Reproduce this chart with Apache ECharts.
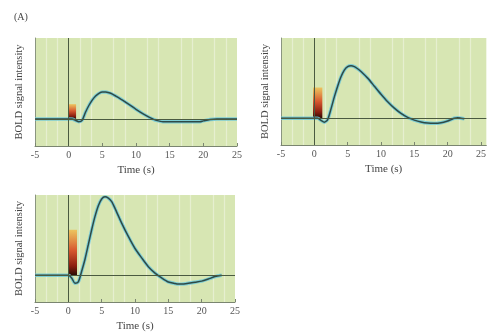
<!DOCTYPE html>
<html><head><meta charset="utf-8">
<script src="https://cdn.jsdelivr.net/npm/echarts@6/dist/echarts.min.js"></script>
<style>html,body{margin:0;padding:0;background:#fff}#c{width:489px;height:333px}</style>
</head><body><div id="c"></div>
<script>
const xTicks = [-5, 0, 5, 10, 15, 20, 25];
const t1 = [-5,0,0.5,1,1.5,2,2.5,3,3.5,4,4.5,5,5.5,6,6.5,7,8,9,10,11,12,12.5,13,14,15,16,17,18,19,19.5,20,21,22,23,24,25];
const v1 = [0,0,0,-0.05,-0.1,-0.05,0.25,0.5,0.7,0.85,0.95,1.0,1.0,0.97,0.92,0.85,0.7,0.53,0.36,0.2,0.06,0.0,-0.05,-0.1,-0.1,-0.1,-0.1,-0.1,-0.1,-0.1,-0.07,-0.02,0,0,0,0];
const t2 = [-5,0,0.5,1,1.5,2,2.5,3,3.5,4,4.5,5,5.5,6,6.5,7,8,9,10,11,12,13,14,15,16,17,18,19,20,20.5,21,21.5,22,22.5];
const v2 = [0,0,0,-0.08,-0.15,-0.05,0.35,0.8,1.2,1.55,1.8,1.93,1.96,1.93,1.85,1.75,1.5,1.2,0.9,0.62,0.38,0.18,0.03,-0.07,-0.14,-0.18,-0.19,-0.17,-0.1,-0.05,0.0,0.02,0.0,-0.02];
const t3 = [-5,0,0.5,1,1.5,2,2.5,3,3.5,4,4.5,5,5.5,6,6.5,7,8,9,10,11,12,13,14,15,16,16.5,17,18,19,20,21,22,23];
const v3 = [0,0,-0.1,-0.3,-0.25,0.15,0.6,1.15,1.7,2.2,2.6,2.85,2.93,2.88,2.75,2.5,1.95,1.45,1.0,0.65,0.32,0.08,-0.1,-0.25,-0.31,-0.33,-0.33,-0.3,-0.26,-0.22,-0.14,-0.05,0];
// stimulus blocks: [start, end, height]
const stim1 = [0, 1.1, 0.55];
const stim2 = [-0.2, 1.2, 1.15];
const stim3 = [0, 1.3, 1.7];
const panelLabel = '(A)';
const xName = 'Time (s)';
const yName = 'BOLD signal intensity';

const FONT = 'Liberation Serif';
const grids = [
  {left: 35, top: 38, width: 202, height: 108},
  {left: 281, top: 38, width: 208, height: 107},
  {left: 35, top: 195, width: 200, height: 108}
];
const xMax = [25, 25.8, 25];
function zip(t, v){ return t.map((x,i)=>[x, v[i]]); }
const stimGrad = {type:'linear', x:0, y:0, x2:0, y2:1, colorStops:[
  {offset:0, color:'rgba(240,190,80,0.85)'},
  {offset:0.45, color:'rgba(215,80,40,0.95)'},
  {offset:0.8, color:'#8a1e10'},
  {offset:1, color:'#2a0d05'}]};
const xAxes = grids.map((g,i)=>({
  type:'value', gridIndex:i, min:-5, max:xMax[i], interval:5,
  name:xName, nameLocation:'middle', nameGap:19,
  nameTextStyle:{fontFamily:FONT, fontSize:11, color:'#444'},
  axisLine:{show:true, onZero:false, lineStyle:{color:'#7a8570', width:1}},
  axisTick:{show:true, inside:true, length:3, lineStyle:{color:'#7a8570'}},
  axisLabel:{fontFamily:FONT, fontSize:10, color:'#555', margin:4, showMaxLabel: i!==1,
    formatter: v => xTicks.indexOf(v) >= 0 ? String(v) : ''},
  splitLine:{show:false},
  minorTick:{show:false, splitNumber:3},
  minorSplitLine:{show:true, lineStyle:{color:'#e6efd0', width:1.2}}
}));
const yAxes = grids.map((g,i)=>({
  type:'value', gridIndex:i, min:-1, max:3,
  name:yName, nameLocation:'middle', nameGap:10, nameRotate:90,
  nameTextStyle:{fontFamily:FONT, fontSize:10.5, color:'#444'},
  axisLine:{show:true, onZero:false, lineStyle:{color:'#8a9580'}},
  axisTick:{show:false}, axisLabel:{show:false}, splitLine:{show:false}
}));
const curves = [[t1,v1,stim1],[t2,v2,stim2],[t3,v3,stim3]];
const series = [];
curves.forEach((c,i)=>{
  series.push({
    type:'line', xAxisIndex:i, yAxisIndex:i, data:zip(c[0],c[1]),
    showSymbol:false, smooth:0.25, z:3,
    lineStyle:{color:'#6cc8d8', width:3.4, opacity:0.85},
    silent:true,
    markArea:{silent:true, itemStyle:{color:stimGrad},
      data:[[{coord:[c[2][0],0]},{coord:[c[2][1],c[2][2]]}]]},
    markLine:{silent:true, symbol:'none', label:{show:false},
      lineStyle:{color:'#4a5a40', width:1, type:'solid'},
      data:[{xAxis:0},{yAxis:0}]}
  });
  series.push({
    type:'line', xAxisIndex:i, yAxisIndex:i, data:zip(c[0],c[1]),
    showSymbol:false, smooth:0.25, z:4, silent:true,
    lineStyle:{color:'#2e4a46', width:1.5}
  });
});
const chart = echarts.init(document.getElementById('c'), null, {renderer:'canvas'});
chart.setOption({
  backgroundColor:'#fff', animation:false,
  title:{text:panelLabel, left:9, top:7, textStyle:{fontFamily:FONT, fontSize:10, fontWeight:'normal', color:'#444'}},
  grid: grids.map(g=>Object.assign({show:true, backgroundColor:'#d7e6b3', borderWidth:0}, g)),
  xAxis:xAxes, yAxis:yAxes, series:series
});
</script></body></html>
